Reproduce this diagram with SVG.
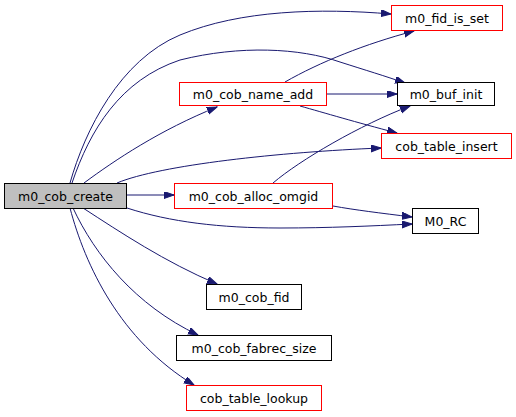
<svg xmlns="http://www.w3.org/2000/svg" width="516" height="417" viewBox="0 0 516 417">
<style>
.n rect{fill:#ffffff;stroke-width:1}
.n text{font-family:"DejaVu Sans",sans-serif;font-size:12.5px;text-anchor:middle;fill:#000000}
.e path{fill:none;stroke:#191970;stroke-width:1}
</style>
<defs>
<marker id="ah" markerUnits="userSpaceOnUse" markerWidth="11" markerHeight="8" refX="10" refY="3.5" orient="auto">
<path d="M0,0 L10,3.5 L0,7 z" fill="#191970" stroke="#191970"/>
</marker>
</defs>
<g id="edges" class="e">
<path marker-end="url(#ah)" d="M70,183 C85,130 120,60 180,35 C240,10 320,8 391,14"/>
<path marker-end="url(#ah)" d="M72,183 C90,130 120,80 180,60 C240,45 300,48 340,62 C365,70 385,76 405,83"/>
<path marker-end="url(#ah)" d="M84,183 C115,160 160,130 217,107"/>
<path marker-end="url(#ah)" d="M117,183 C160,165 280,152 381,148"/>
<path marker-end="url(#ah)" d="M127,195 L174,195"/>
<path marker-end="url(#ah)" d="M127,208 C170,222 220,228 280,228 C330,228 370,226 412,224"/>
<path marker-end="url(#ah)" d="M83,208 C120,232 165,262 217,284"/>
<path marker-end="url(#ah)" d="M73,208 C95,255 135,305 198,335"/>
<path marker-end="url(#ah)" d="M70,208 C85,265 120,340 194,385"/>
<path marker-end="url(#ah)" d="M285,82 C320,62 365,44 414,31"/>
<path marker-end="url(#ah)" d="M327,94 L397,94"/>
<path marker-end="url(#ah)" d="M300,106 C325,113 355,122 397,133"/>
<path marker-end="url(#ah)" d="M273,183 C300,160 360,125 410,106"/>
<path marker-end="url(#ah)" d="M333,206 C355,210 380,213 412,217"/>
</g>
<g id="m0_cob_create" class="n"><rect x="4.5" y="183.5" width="122" height="25" stroke="#000000" style="fill:#bfbfbf"/><text x="65.5" y="200.5">m0_cob_create</text></g>
<g id="m0_cob_name_add" class="n"><rect x="179.5" y="82.5" width="147" height="23" stroke="#ff0000"/><text x="253" y="98.5">m0_cob_name_add</text></g>
<g id="m0_fid_is_set" class="n"><rect x="391.5" y="5.5" width="111" height="25" stroke="#ff0000"/><text x="447" y="22.5">m0_fid_is_set</text></g>
<g id="m0_buf_init" class="n"><rect x="397.5" y="82.5" width="97" height="23" stroke="#000000"/><text x="446" y="98.5">m0_buf_init</text></g>
<g id="cob_table_insert" class="n"><rect x="381.5" y="133.5" width="130" height="25" style="stroke:#ff0000"/><text x="446.5" y="150.5">cob_table_insert</text></g>
<g id="m0_cob_alloc_omgid" class="n"><rect x="174.5" y="183.5" width="158" height="25" stroke="#ff0000"/><text x="253.5" y="200.5">m0_cob_alloc_omgid</text></g>
<g id="M0_RC" class="n"><rect x="412.5" y="208.5" width="66" height="25" stroke="#000000"/><text x="445.5" y="225.5">M0_RC</text></g>
<g id="m0_cob_fid" class="n"><rect x="206.5" y="284.5" width="95" height="25" stroke="#000000"/><text x="254" y="301.5">m0_cob_fid</text></g>
<g id="m0_cob_fabrec_size" class="n"><rect x="176.5" y="335.5" width="155" height="25" stroke="#000000"/><text x="254" y="352.5">m0_cob_fabrec_size</text></g>
<g id="cob_table_lookup" class="n"><rect x="186.5" y="385.5" width="135" height="25" stroke="#ff0000"/><text x="254" y="402.5">cob_table_lookup</text></g>
</svg>
